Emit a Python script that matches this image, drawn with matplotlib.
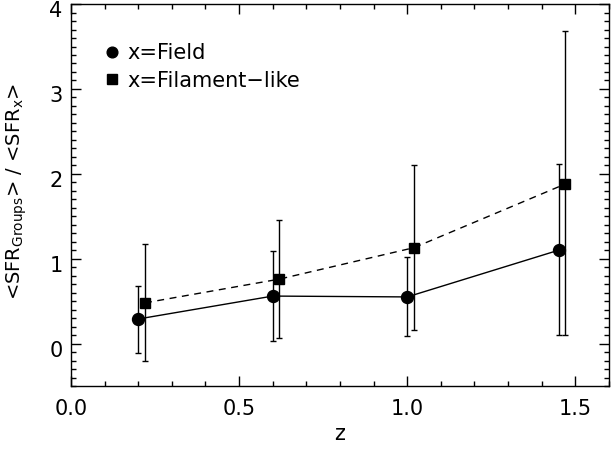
import matplotlib
matplotlib.use('Agg')
import matplotlib.pyplot as plt
import matplotlib.transforms as mtrans
from matplotlib.lines import Line2D
from matplotlib.ticker import MultipleLocator

# data
z_field = [0.20, 0.60, 1.00, 1.45]
r_field = [0.29, 0.56, 0.55, 1.10]
lo_field = [-0.11, 0.03, 0.09, 0.10]
hi_field = [0.68, 1.09, 1.02, 2.12]

z_fil = [0.22, 0.62, 1.02, 1.47]
r_fil = [0.48, 0.76, 1.13, 1.88]
lo_fil = [-0.21, 0.07, 0.16, 0.10]
hi_fil = [1.17, 1.46, 2.10, 3.68]

plt.rcParams['font.family'] = 'DejaVu Sans'
plt.rcParams['mathtext.fontset'] = 'dejavusans'

fig = plt.figure(figsize=(6.12, 4.51), dpi=100)
ax = fig.add_axes([0.116, 0.144, 0.879, 0.847])

err_f = [[r - l for r, l in zip(r_field, lo_field)], [h - r for r, h in zip(r_field, hi_field)]]
err_s = [[r - l for r, l in zip(r_fil, lo_fil)], [h - r for r, h in zip(r_fil, hi_fil)]]

ax.errorbar(z_field, r_field, yerr=err_f, fmt='o', color='black', ms=8.6,
            ecolor='black', elinewidth=1, capsize=2.5, capthick=1, zorder=3)
ax.plot(z_field, r_field, '-', color='black', lw=1)
ax.errorbar(z_fil, r_fil, yerr=err_s, fmt='s', color='black', ms=7.7,
            ecolor='black', elinewidth=1, capsize=2.5, capthick=1, zorder=3)
ax.plot(z_fil, r_fil, '--', color='black', lw=1, dashes=(5, 4))

ax.set_xlim(0, 1.6)
ax.set_ylim(-0.5, 4)
ax.xaxis.set_minor_locator(MultipleLocator(0.1))
ax.yaxis.set_major_locator(MultipleLocator(1))
ax.yaxis.set_minor_locator(MultipleLocator(0.1))
ax.set_xticks([0, 0.5, 1.0, 1.5])
ax.set_xticklabels(['0.0', '0.5', '1.0', '1.5'])
ax.tick_params(which='both', direction='in', top=True, right=True, labelsize=15)
ax.tick_params(which='major', length=7, width=1)
ax.tick_params(which='minor', length=3.6, width=1)
ax.tick_params(axis='x', pad=9)
ax.tick_params(axis='y', pad=6)
for s in ax.spines.values():
    s.set_linewidth(1)

# IDL-style labels sit a little below their ticks
shift = mtrans.ScaledTranslation(0, -5 / 100, fig.dpi_scale_trans)
for lab in ax.get_yticklabels():
    lab.set_transform(lab.get_transform() + shift)

ax.set_xlabel('z', fontsize=15, labelpad=4)
ax.set_ylabel(r'<SFR$_{\mathrm{Groups}}$> / <SFR$_{\mathrm{x}}$>', fontsize=14)
ax.yaxis.set_label_coords(-0.078, 0.51)

handles = [Line2D([], [], marker='o', ls='none', color='black', ms=7.7),
           Line2D([], [], marker='s', ls='none', color='black', ms=7.2)]
ax.legend(handles, ['x=Field', 'x=Filament\u2212like'], loc='upper left',
          bbox_to_anchor=(0.041, 0.919), frameon=False, fontsize=15,
          handletextpad=0.27, handlelength=1.0, borderaxespad=0,
          labelspacing=0.35)

fig.savefig('out.png', dpi=100)
